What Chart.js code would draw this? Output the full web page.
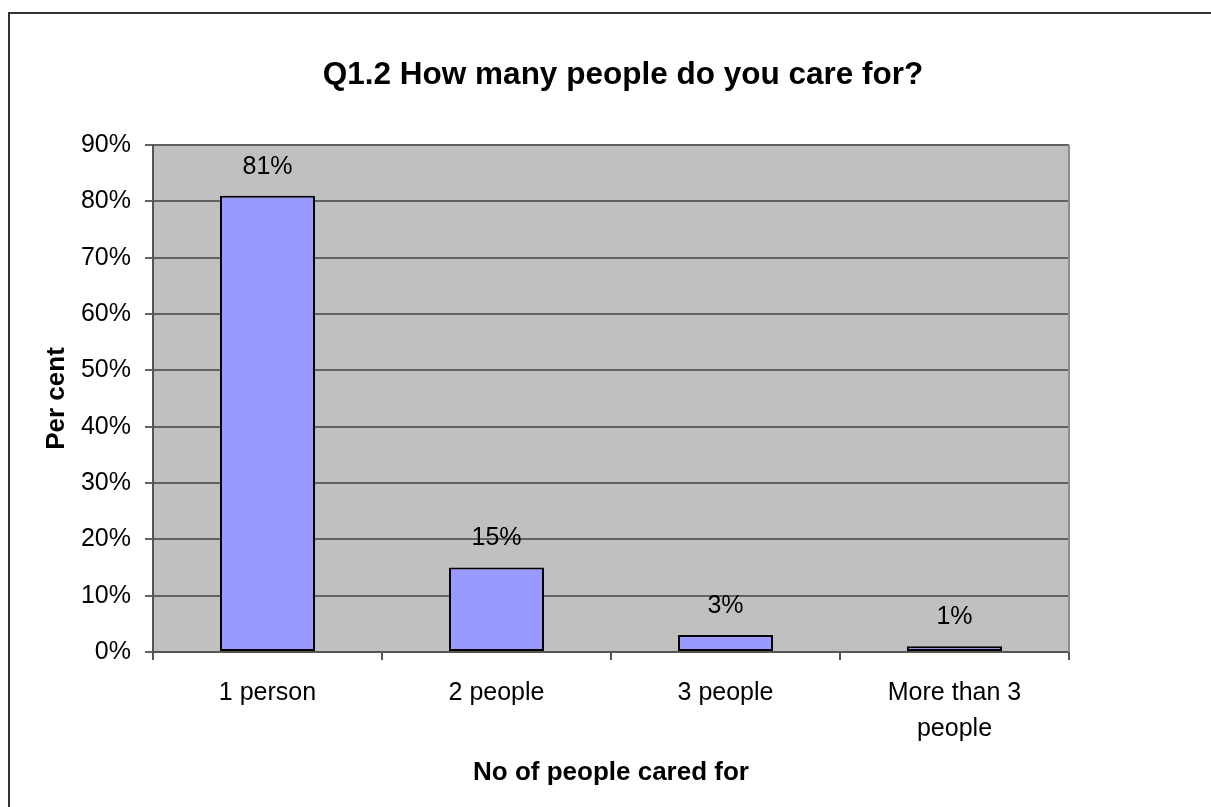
<!DOCTYPE html>
<html>
<head>
<meta charset="utf-8">
<title>Q1.2 How many people do you care for?</title>
<script src="https://cdn.jsdelivr.net/npm/chart.js@4.4.1/dist/chart.umd.min.js"></script>
<style>
  html, body { margin: 0; padding: 0; background: #fff; }
  #wrap { width: 1211px; height: 807px; position: relative; }
</style>
</head>
<body>
<div id="wrap"><canvas id="careChart"></canvas></div>
<script>
// data
const categories = ["1 person", "2 people", "3 people", ["More than 3", "people"]];
const percentValues = [81, 15, 3, 1];
const yTicks = [0, 10, 20, 30, 40, 50, 60, 70, 80, 90];

const chartTitle = "Q1.2 How many people do you care for?";
const fontFamily = "'Liberation Sans', Arial, sans-serif";

// grey plot area, outer frame, title and labels above bars
const excelLook = {
  id: "excelLook",
  beforeDraw(chart) {
    const { ctx, chartArea } = chart;
    ctx.save();
    ctx.fillStyle = "#ffffff";
    ctx.fillRect(0, 0, chart.width, chart.height);
    ctx.fillStyle = "#c0c0c0";
    ctx.fillRect(chartArea.left, chartArea.top, chartArea.right - chartArea.left, chartArea.bottom - chartArea.top);
    // outer frame (cut off at right / bottom like the reference)
    ctx.strokeStyle = "#333333";
    ctx.lineWidth = 2;
    ctx.strokeRect(9, 13, chart.width + 20, chart.height + 20);
    ctx.restore();
  },
  afterDraw(chart) {
    const { ctx, chartArea } = chart;
    ctx.save();
    // right edge of plot area
    ctx.strokeStyle = "#8c8c8c";
    ctx.lineWidth = 2;
    ctx.beginPath();
    ctx.moveTo(chartArea.right, chartArea.top);
    ctx.lineTo(chartArea.right, chartArea.bottom);
    ctx.stroke();

    ctx.fillStyle = "#000";
    ctx.textAlign = "center";
    ctx.textBaseline = "middle";
    ctx.font = "bold 31.5px " + fontFamily;
    ctx.fillText(chartTitle, 623, 75);

    // value labels
    ctx.font = "25px " + fontFamily;
    const meta = chart.getDatasetMeta(0);
    meta.data.forEach((bar, i) => {
      ctx.fillText(percentValues[i] + "%", bar.x, bar.y - 29);
    });
    ctx.restore();
  }
};

const ctx = document.getElementById("careChart").getContext("2d");
const careChart = new Chart(ctx, {
  type: "bar",
  data: {
    labels: categories,
    datasets: [
      {
        data: percentValues,
        backgroundColor: "#9999ff",
        borderColor: "#000000",
        borderWidth: 2,
        borderSkipped: false,
        categoryPercentage: 1,
        barPercentage: 0.415,
      },
    ],
  },
  options: {
    responsive: true,
    maintainAspectRatio: false,
    animation: false,
    layout: {
      padding: { top: 145, left: 0, right: 142, bottom: 0 },
    },
    scales: {
      y: {
        min: 0,
        max: 90,
        afterFit(scale) { scale.width = 153; },
        afterBuildTicks(scale) { scale.ticks = yTicks.map(v => ({ value: v })); },
        ticks: {
          callback: (v) => v + "%",
          color: "#000",
          padding: 14,
          font: { family: fontFamily, size: 25 },
        },
        grid: {
          color: "#626262",
          lineWidth: 2,
          tickLength: 8,
        },
        border: { color: "#555555", width: 2 },
        title: {
          display: true,
          text: "Per cent",
          color: "#000",
          padding: { top: 41 },
          font: { family: fontFamily, size: 26, weight: "bold" },
        },
      },
      x: {
        afterFit(scale) { scale.height = 155; },
        ticks: {
          color: "#000",
          padding: 15,
          font: { family: fontFamily, size: 25, lineHeight: 1.45 },
          maxRotation: 0,
        },
        grid: {
          drawOnChartArea: false,
          color: "#555555",
          lineWidth: 2,
          tickLength: 8,
        },
        border: { color: "#555555", width: 2 },
        title: {
          display: true,
          text: "No of people cared for",
          color: "#000",
          padding: { bottom: 19 },
          font: { family: fontFamily, size: 26, weight: "bold" },
        },
      },
    },
    plugins: {
      legend: { display: false },
      tooltip: { enabled: false },
    },
  },
  plugins: [excelLook],
});
</script>
</body>
</html>
